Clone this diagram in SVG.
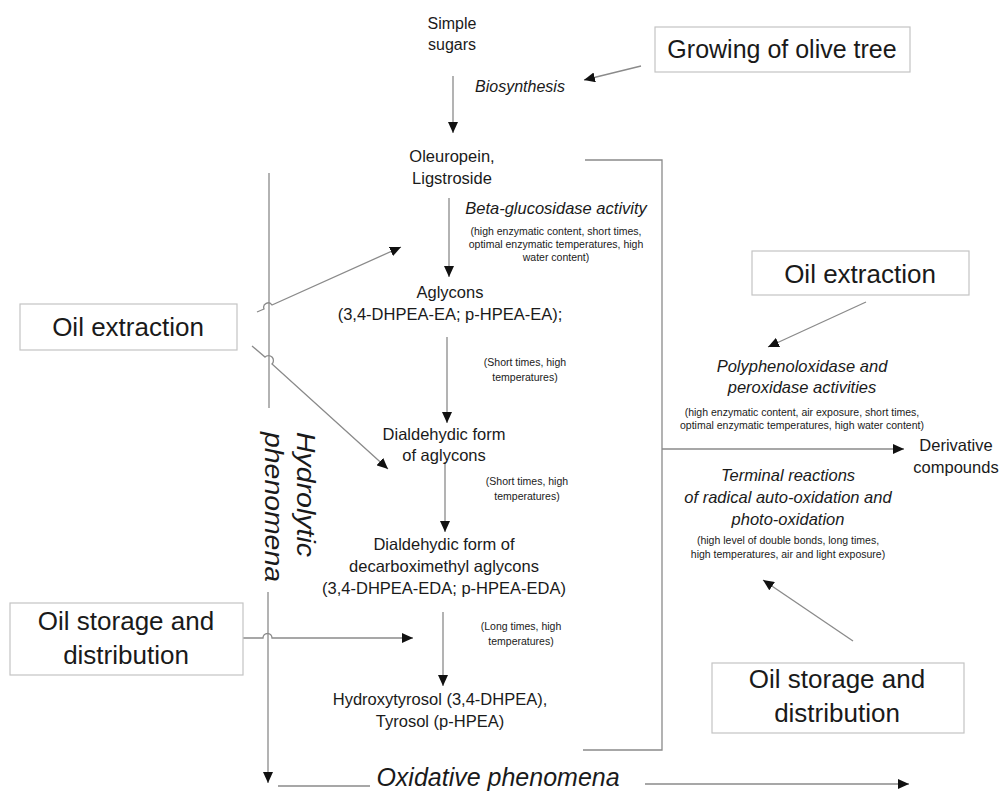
<svg xmlns="http://www.w3.org/2000/svg" width="1005" height="792" viewBox="0 0 1005 792">
<style>
text{font-family:"Liberation Sans",Arial,sans-serif;fill:#1a1a1a;text-anchor:middle}
.n{font-size:16.5px}
.s{font-size:10.5px}
.i{font-style:italic}
.big{font-size:26px}
.box{fill:#fff;stroke:#c4c4c4;stroke-width:1.2}
.c{fill:none;stroke:#8a8a8a;stroke-width:1.3}
.cm{fill:none;stroke:#8a8a8a;stroke-width:1.3;marker-end:url(#ah)}
</style>
<defs>
<marker id="ah" markerUnits="userSpaceOnUse" markerWidth="12" markerHeight="10" refX="11" refY="5" orient="auto">
<path d="M0,0 L11,5 L0,10 Z" fill="#111"/>
</marker>
</defs>
<g id="connectors">
<line class="cm" x1="453" y1="76" x2="453" y2="133"/>
<line class="cm" x1="641" y1="66" x2="584" y2="80"/>
<line class="cm" x1="449" y1="198" x2="449" y2="277"/>
<line class="cm" x1="447" y1="337" x2="447" y2="423"/>
<line class="cm" x1="445" y1="462" x2="445" y2="532"/>
<line class="cm" x1="443" y1="612" x2="443" y2="686"/>
<path class="cm" d="M257,312 L264,309 A4.5,4.5 0 0 1 272,305 L401,247"/>
<path class="cm" d="M252,346 L265,357 A4.5,4.5 0 0 1 272,364 L388,469"/>
<path class="cm" d="M243,638 L263,638 A4.5,4.5 0 0 1 272,638 L413,638"/>
<line class="c" x1="269" y1="173" x2="269" y2="408"/>
<line class="cm" x1="268" y1="592" x2="268" y2="783"/>
<polyline class="c" points="585,160 662,160 662,750 583,750"/>
<line class="cm" x1="662" y1="449" x2="904" y2="449"/>
<line class="cm" x1="866" y1="302" x2="768" y2="347"/>
<line class="cm" x1="853" y1="641" x2="763" y2="580"/>
<line class="c" x1="278" y1="786" x2="370" y2="786"/>
<line class="cm" x1="645" y1="784" x2="909" y2="784"/>
</g>
<g id="simple-sugars"><text style="font-size:16px" x="452" y="29">Simple</text><text style="font-size:16px" x="452" y="50">sugars</text></g>
<g id="biosynthesis"><text class="i" style="font-size:16px" x="520" y="92">Biosynthesis</text></g>
<g id="growing"><rect class="box" x="655" y="27" width="255" height="45"/><text style="font-size:25px" x="782" y="58">Growing of olive tree</text></g>
<g id="oleuropein"><text class="n" x="452" y="162">Oleuropein,</text><text class="n" x="452" y="184">Ligstroside</text></g>
<g id="beta"><text class="i" style="font-size:16.5px" x="556" y="214">Beta-glucosidase activity</text>
<text class="s" x="556" y="235">(high enzymatic content, short times,</text>
<text class="s" x="556" y="248">optimal enzymatic temperatures, high</text>
<text class="s" x="556" y="261">water content)</text></g>
<g id="aglycons"><text class="n" x="450" y="298">Aglycons</text><text class="n" x="450" y="320">(3,4-DHPEA-EA; p-HPEA-EA);</text></g>
<g id="cond1"><text class="s" x="525" y="366">(Short times, high</text><text class="s" x="525" y="381">temperatures)</text></g>
<g id="dialdehydic"><text class="n" x="444" y="440">Dialdehydic form</text><text class="n" x="444" y="461">of aglycons</text></g>
<g id="cond2"><text class="s" x="527" y="485">(Short times, high</text><text class="s" x="527" y="500">temperatures)</text></g>
<g id="decarbox"><text class="n" x="444" y="550">Dialdehydic form of</text><text class="n" x="444" y="572">decarboximethyl aglycons</text><text class="n" x="444" y="594">(3,4-DHPEA-EDA; p-HPEA-EDA)</text></g>
<g id="cond3"><text class="s" x="521" y="630">(Long times, high</text><text class="s" x="521" y="645">temperatures)</text></g>
<g id="hydroxytyrosol"><text class="n" x="440" y="705">Hydroxytyrosol (3,4-DHPEA),</text><text class="n" x="440" y="727">Tyrosol (p-HPEA)</text></g>
<g id="oil-extraction-left"><rect class="box" x="20" y="304" width="217" height="46"/><text class="big" x="128" y="336">Oil extraction</text></g>
<g id="oil-storage-left"><rect class="box" x="10" y="603" width="233" height="72"/><text class="big" x="126" y="630">Oil storage and</text><text class="big" x="126" y="664">distribution</text></g>
<g id="hydrolytic"><text class="i" style="font-size:25px;text-anchor:start" textLength="125" lengthAdjust="spacingAndGlyphs" transform="translate(297,432) rotate(90)">Hydrolytic</text><text class="i" style="font-size:25px;text-anchor:start" textLength="150" lengthAdjust="spacingAndGlyphs" transform="translate(265,432) rotate(90)">phenomena</text></g>
<g id="oil-extraction-right"><rect class="box" x="752" y="251" width="217" height="44"/><text class="big" x="860" y="283">Oil extraction</text></g>
<g id="polyphenol"><text class="i" style="font-size:16.5px" x="802" y="372">Polyphenoloxidase and</text><text class="i" style="font-size:16.5px" x="802" y="393">peroxidase activities</text>
<text class="s" x="802" y="416">(high enzymatic content, air exposure, short times,</text>
<text class="s" x="802" y="429">optimal enzymatic temperatures, high water content)</text></g>
<g id="derivative"><text class="n" x="956" y="451">Derivative</text><text class="n" x="956" y="473">compounds</text></g>
<g id="terminal"><text class="i" style="font-size:16.5px" x="788" y="481">Terminal reactions</text><text class="i" style="font-size:16.5px" x="788" y="503">of radical auto-oxidation and</text><text class="i" style="font-size:16.5px" x="788" y="525">photo-oxidation</text>
<text class="s" x="788" y="544">(high level of double bonds, long times,</text>
<text class="s" x="788" y="558">high temperatures, air and light exposure)</text></g>
<g id="oil-storage-right"><rect class="box" x="712" y="663" width="252" height="70"/><text class="big" x="837" y="688">Oil storage and</text><text class="big" x="837" y="722">distribution</text></g>
<g id="oxidative"><text class="i" style="font-size:25px" x="498" y="786">Oxidative phenomena</text></g>
</svg>
